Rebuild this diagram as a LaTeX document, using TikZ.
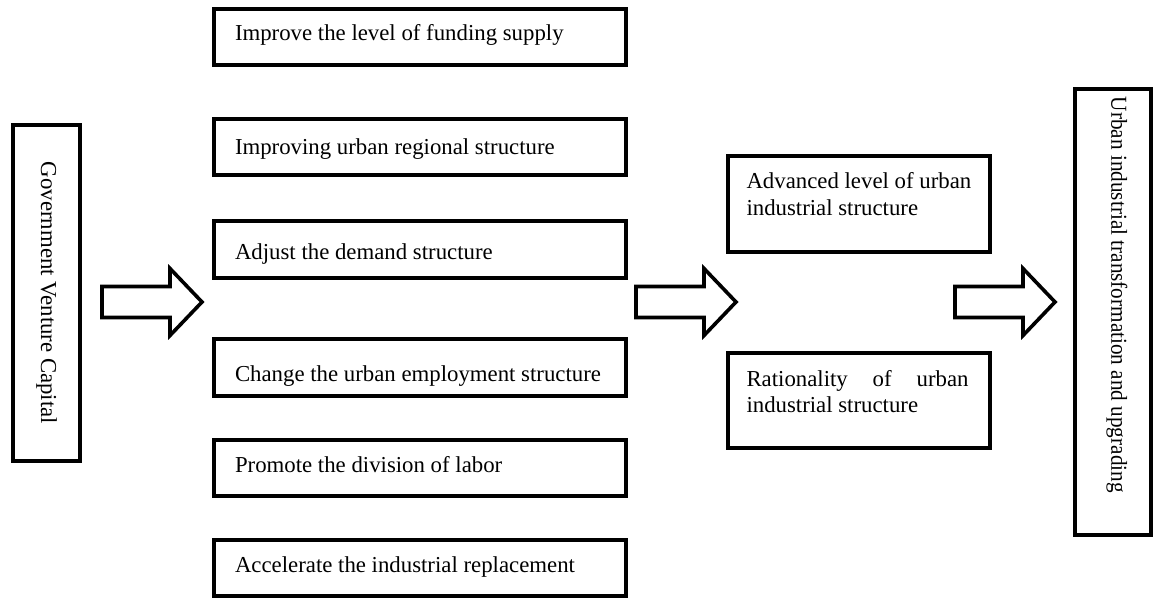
\documentclass[tikz,border=0pt]{standalone}
\usepackage{fontspec}
\setmainfont{Liberation Serif}
\begin{document}
\begin{tikzpicture}[x=1pt,y=-1pt,
  box/.style={draw=black,line width=4pt,fill=white,inner sep=0pt,outer sep=0pt},
  txt/.style={inner sep=0pt,outer sep=0pt,font=\fontsize{22.8}{26.5}\selectfont},
  lbl/.style={txt,anchor=base west},
  fat/.style={draw=black,fill=white,line width=3.6pt,line join=miter}]
% canvas
\fill[white] (0,0) rectangle (1155,601);
\useasboundingbox (0,0) rectangle (1155,601);

% source box
\node[box,minimum width=67pt,minimum height=336pt] (src) at (46.5,293) {};
\node[txt,rotate=-90] (srct) at (src.center) {Government Venture Capital};

% mechanism column
\node[box,minimum width=412pt,minimum height=56pt] (m1) at (420,37) {};
\node[box,minimum width=412pt,minimum height=56pt] (m2) at (420,147) {};
\node[box,minimum width=412pt,minimum height=57pt] (m3) at (420,249.5) {};
\node[box,minimum width=412pt,minimum height=57pt] (m4) at (420,367.5) {};
\node[box,minimum width=412pt,minimum height=56pt] (m5) at (420,468) {};
\node[box,minimum width=412pt,minimum height=56pt] (m6) at (420,568) {};
\node[lbl] (m1t) at ([shift={(21,32)}]m1.north west) {Improve the level of funding supply};
\node[lbl] (m2t) at ([shift={(21,36)}]m2.north west) {Improving urban regional structure};
\node[lbl] (m3t) at ([shift={(21,39)}]m3.north west) {Adjust the demand structure};
\node[lbl] (m4t) at ([shift={(21,42)}]m4.north west) {Change the urban employment structure};
\node[lbl] (m5t) at ([shift={(21,32)}]m5.north west) {Promote the division of labor};
\node[lbl] (m6t) at ([shift={(21,32)}]m6.north west) {Accelerate the industrial replacement};

% structure column
\node[box,minimum width=262pt,minimum height=96pt] (adv) at (858.5,204) {};
\node[box,minimum width=262pt,minimum height=95pt] (rat) at (858.5,400.5) {};
\node[lbl] (advt) at ([shift={(19,33)}]adv.north west)
  {\parbox[t]{240pt}{\raggedright Advanced level of urban\\industrial structure}};
\node[lbl] (ratt) at ([shift={(19,33)}]rat.north west)
  {\parbox[t]{240pt}{\raggedright\makebox[222pt][s]{Rationality of urban}\\industrial structure}};

% outcome box
\node[box,minimum width=76pt,minimum height=446pt] (out) at (1113,312) {};
\node[txt,rotate=-90,anchor=west] (outt) at ([shift={(4,8)}]out.north)
  {\scalebox{0.93}[1]{Urban industrial transformation and upgrading}};

% block arrows between the columns
\coordinate (a1) at (102,302);
\coordinate (a2) at (636,302);
\coordinate (a3) at (955,302);
\foreach \a in {a1,a2,a3}
  \draw[fat] (\a) ++(0,-15.5) -- ++(68,0) -- ++(0,-18) -- ++(32,33.5)
     -- ++(-32,33.5) -- ++(0,-18) -- ++(-68,0) -- cycle;
\end{tikzpicture}
\end{document}
